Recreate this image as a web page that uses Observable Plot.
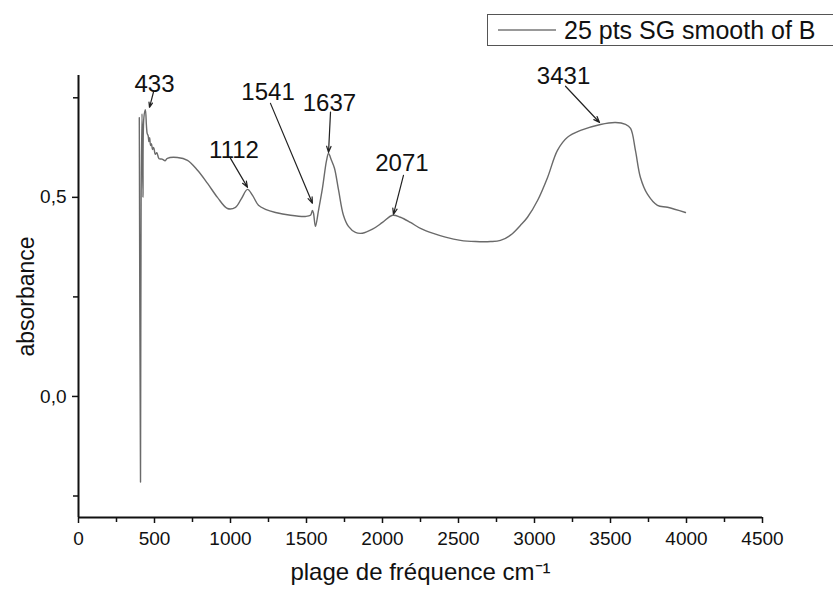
<!DOCTYPE html>
<html>
<head>
<meta charset="utf-8">
<script src="https://cdn.jsdelivr.net/npm/d3@7"></script>
<script src="https://cdn.jsdelivr.net/npm/@observablehq/plot@0.6"></script>
<style>
  html, body { margin: 0; padding: 0; background: #fff; }
  #wrap { position: relative; width: 833px; height: 592px; font-family: "Liberation Sans", Arial, sans-serif; }
  #legend { position: absolute; left: 487px; top: 14px; width: 360px; height: 32px; border: 1.5px solid #555; box-sizing: border-box; background: #fff; display: flex; align-items: center; }
  #legend .swatch { width: 58px; height: 0; border-top: 2px solid #999; margin-left: 10px; margin-right: 8px; }
  #legend .txt { font-size: 25px; color: #111; white-space: nowrap; }
</style>
</head>
<body>
<div id="wrap"></div>
<script>
// Spectrum
const wavenumber = [400,408,412,418,424,430,440,447,452,458,463,468,474,480,487,495,505,515,530,550,570,585,651,717,783,849,914,980,1033,1072,1112,1145,1184,1230,1296,1395,1493,1526,1539,1546,1559,1579,1605,1632,1645,1664,1684,1711,1743,1776,1822,1868,1934,2000,2066,2118,2184,2250,2329,2414,2513,2612,2711,2776,2842,2908,2954,3020,3086,3151,3217,3303,3434,3533,3599,3632,3664,3697,3743,3809,3875,3993];
const absorbance = [0.70,-0.215,0.50,0.71,0.50,0.70,0.72,0.68,0.66,0.655,0.64,0.65,0.63,0.635,0.62,0.625,0.608,0.612,0.597,0.596,0.592,0.598,0.600,0.593,0.568,0.535,0.500,0.472,0.475,0.497,0.520,0.505,0.480,0.470,0.462,0.455,0.452,0.455,0.467,0.46,0.427,0.467,0.523,0.593,0.61,0.593,0.573,0.518,0.455,0.427,0.412,0.410,0.42,0.437,0.455,0.450,0.437,0.422,0.410,0.400,0.392,0.389,0.389,0.392,0.405,0.430,0.450,0.492,0.550,0.618,0.651,0.668,0.683,0.688,0.683,0.673,0.618,0.550,0.508,0.480,0.475,0.462];

// Peak annotations
const peakLabels = ["433","1112","1541","1637","2071","3431"];
const labelX = [500, 1023, 1247, 1651, 2128, 3191];
const labelY = [0.784, 0.619, 0.763, 0.737, 0.585, 0.804];
const arrowX1 = [493, 1000, 1263, 1658, 2138, 3204];
const arrowY1 = [0.764, 0.598, 0.736, 0.714, 0.555, 0.779];
const arrowX2 = [467, 1112, 1539, 1645, 2072, 3428];
const arrowY2 = [0.726, 0.525, 0.485, 0.613, 0.457, 0.688];

// Axes
const xDomain = [0, 4500];
const yDomain = [-0.304, 0.806];
const xMajorTicks = [0,500,1000,1500,2000,2500,3000,3500,4000,4500];
const xMinorTicks = [250,750,1250,1750,2250,2750,3250,3750,4250];
const yMajorTicks = [0, 0.5];
const yMinorTicks = [-0.25, 0.25, 0.75];
const xLabel = "plage de fréquence cm⁻¹";
const yLabel = "absorbance";
const seriesName = "25 pts SG smooth of B";

const spectrum = wavenumber.map((w, i) => ({w, a: absorbance[i]}));
const notes = peakLabels.map((t, i) => ({t, lx: labelX[i], ly: labelY[i], x1: arrowX1[i], y1: arrowY1[i], x2: arrowX2[i], y2: arrowY2[i]}));

const chart = Plot.plot({
  width: 833,
  height: 592,
  marginLeft: 78,
  marginRight: 71,
  marginTop: 75,
  marginBottom: 75,
  style: {fontFamily: "'Liberation Sans', Arial, sans-serif", color: "#111", background: "white"},
  x: {domain: xDomain},
  y: {domain: yDomain},
  marks: [
    Plot.axisX({ticks: xMajorTicks, tickSize: 6, tickPadding: 8, fontSize: 19, tickFormat: d => String(d), label: null, strokeWidth: 1.5}),
    Plot.axisX({ticks: xMinorTicks, tickSize: 5, tickFormat: () => "", label: null, strokeWidth: 1.5}),
    Plot.axisY({ticks: yMajorTicks, tickSize: 6, tickPadding: 6, fontSize: 19, tickFormat: d => d3.format(".1f")(d).replace(".", ","), label: null, strokeWidth: 1.5}),
    Plot.axisY({ticks: yMinorTicks, tickSize: 5, tickFormat: () => "", label: null, strokeWidth: 1.5}),
    Plot.ruleX([xDomain[0]], {stroke: "#111", strokeWidth: 2}),
    Plot.ruleY([yDomain[0]], {stroke: "#111", strokeWidth: 2}),
    Plot.text([xLabel], {frameAnchor: "bottom", textAnchor: "middle", dy: 62, fontSize: 24, fill: "#111"}),
    Plot.text([yLabel], {frameAnchor: "left", textAnchor: "middle", rotate: -90, dx: -52, fontSize: 23, fill: "#111"}),
    Plot.line(spectrum, {x: "w", y: "a", stroke: "#6a6a6a", strokeWidth: 1.4, curve: "catmull-rom"}),
    Plot.arrow(notes, {x1: "x1", y1: "y1", x2: "x2", y2: "y2", stroke: "#222", strokeWidth: 1.2, headLength: 8, headAngle: 40}),
    Plot.text(notes, {x: "lx", y: "ly", text: "t", fontSize: 24, fill: "#111"})
  ]
});

const wrap = document.getElementById("wrap");
wrap.appendChild(chart);
const legend = document.createElement("div");
legend.id = "legend";
legend.innerHTML = '<div class="swatch"></div><span class="txt"></span>';
legend.querySelector(".txt").textContent = seriesName;
wrap.appendChild(legend);
</script>
</body>
</html>
